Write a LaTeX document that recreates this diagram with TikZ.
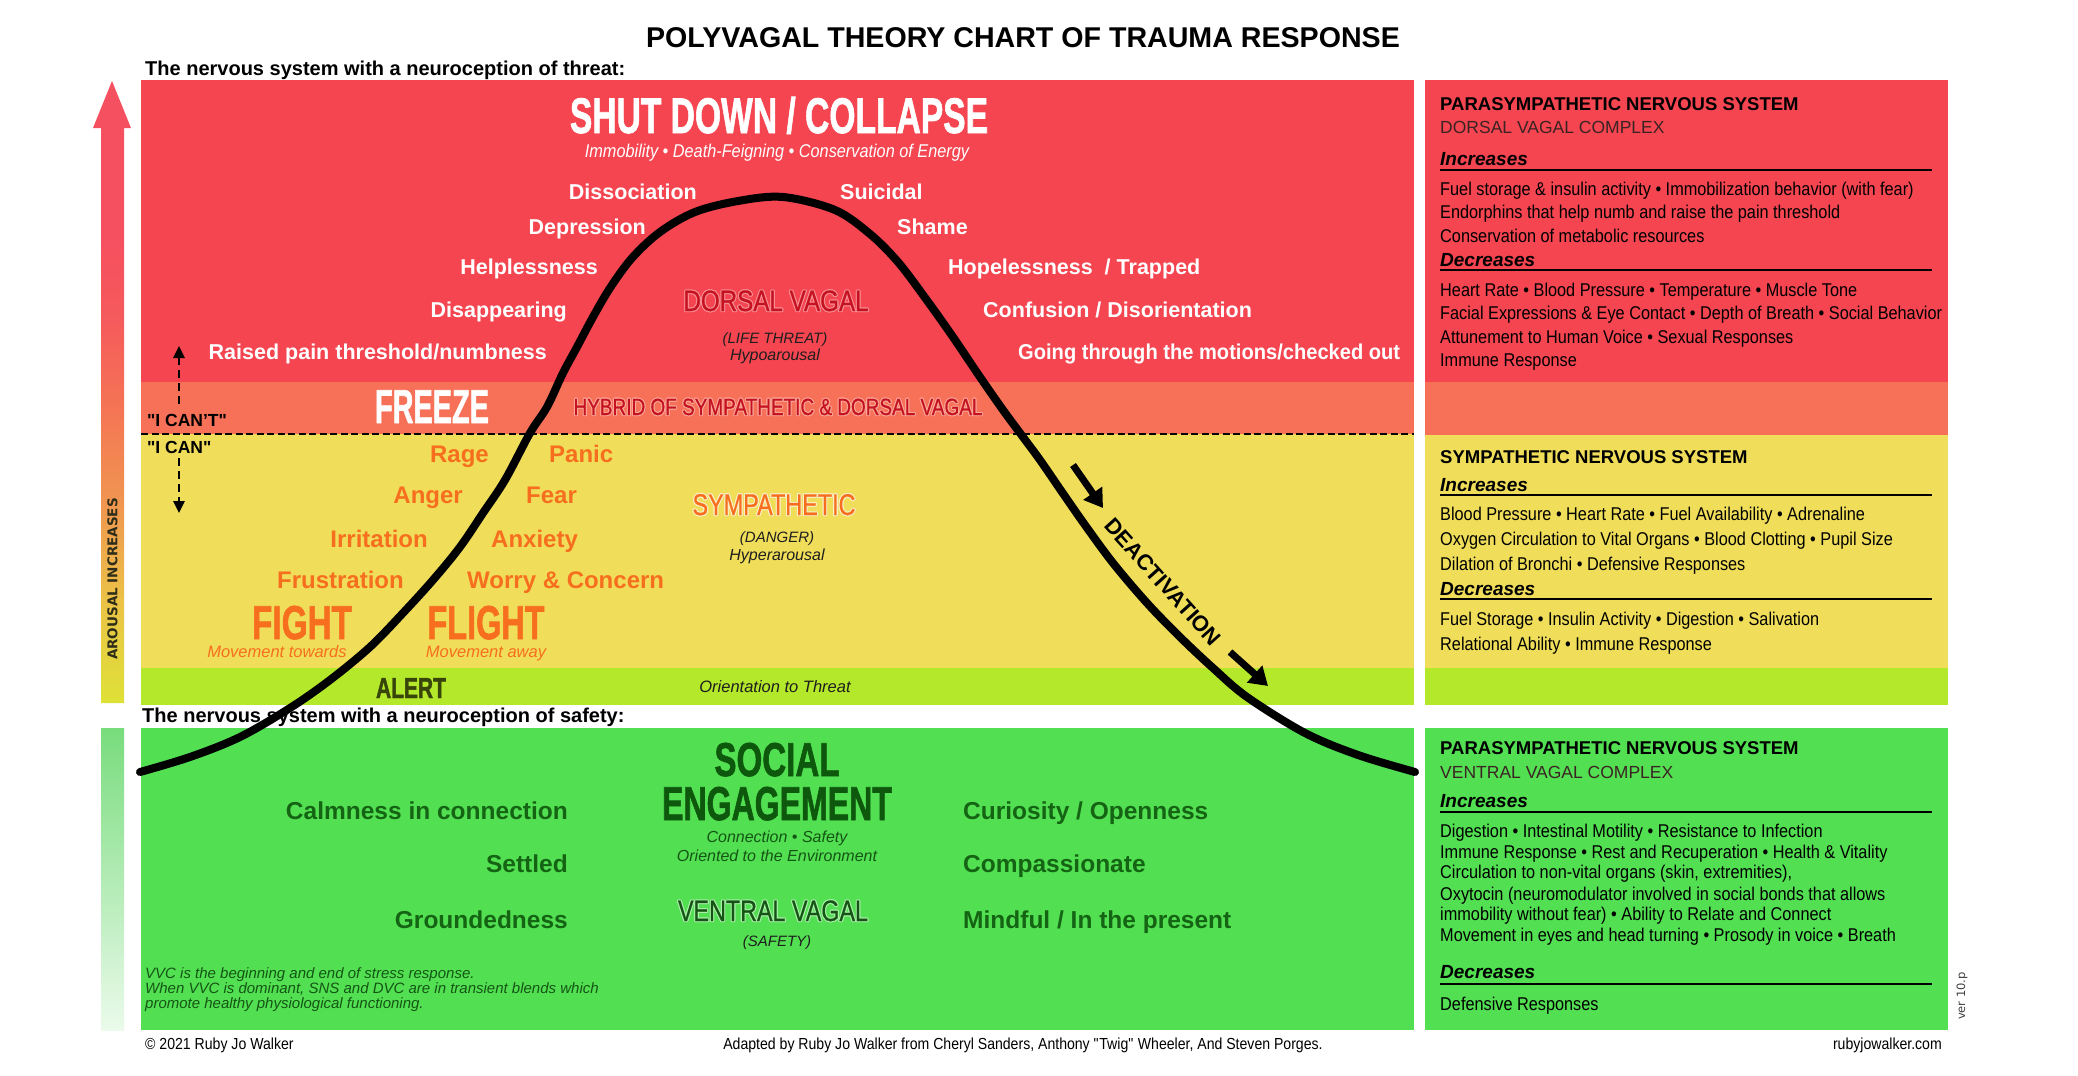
\documentclass[tikz,border=0pt]{standalone}
\usepackage{fontspec}
\usepackage{graphicx}
\setmainfont{Liberation Sans}
\newfontfamily\bodyf[FakeStretch=0.88]{Liberation Sans}
\newfontfamily\heavyf[FakeBold=1.6]{Liberation Sans}
\newfontfamily\semif[FakeBold=0.7]{Liberation Sans}
\newfontfamily\dvs{DejaVu Sans}
\usetikzlibrary{arrows.meta}

\definecolor{cRed}{RGB}{244,69,80}
\definecolor{cSalmon}{RGB}{247,112,88}
\definecolor{cYellow}{RGB}{240,222,90}
\definecolor{cLime}{RGB}{180,232,42}
\definecolor{cGreen}{RGB}{82,224,82}
\definecolor{cOrange}{RGB}{246,110,30}
\definecolor{cDarkRed}{RGB}{196,18,32}
\definecolor{cOlive}{RGB}{55,68,10}
\definecolor{cGText}{RGB}{20,100,20}
\definecolor{cDkGreen}{RGB}{14,88,14}
\definecolor{cVV}{RGB}{20,85,20}
\definecolor{cNote}{RGB}{30,30,30}
\definecolor{cSub}{RGB}{60,35,35}
\definecolor{cArousal}{RGB}{45,45,25}
\definecolor{haloRed}{RGB}{248,140,146}
\definecolor{haloSalmon}{RGB}{250,165,150}
\definecolor{haloGreen}{RGB}{170,238,170}
\definecolor{haloYellow}{RGB}{250,240,200}
\definecolor{arT}{RGB}{245,80,95}
\definecolor{arP}{RGB}{245,90,92}
\definecolor{arM}{RGB}{245,115,85}
\definecolor{arO}{RGB}{240,150,80}
\definecolor{arY}{RGB}{235,195,70}
\definecolor{arB}{RGB}{222,225,55}
\definecolor{lbTop}{RGB}{120,220,125}
\definecolor{lbBot}{RGB}{235,250,235}

\pgfdeclareverticalshading{arousal}{100bp}{color(0bp)=(arB); color(25bp)=(arB); color(33bp)=(arY); color(41bp)=(arO); color(49bp)=(arM); color(56bp)=(arP); color(62bp)=(arT); color(75bp)=(arT); color(100bp)=(arT)}

\newcommand\fs[1]{\fontsize{#1}{#1}\selectfont}
\newcommand\hx[2]{\scalebox{#1}[1]{#2}}
\newcommand\dq{\textquotedbl}
\newcommand\glow[2]{\leavevmode
  \rlap{\textcolor{#1}{\hspace*{1.1pt}#2}}%
  \rlap{\textcolor{#1}{\hspace*{-1.1pt}#2}}%
  \rlap{\textcolor{#1}{\raisebox{1.1pt}{#2}}}%
  \rlap{\textcolor{#1}{\raisebox{-1.1pt}{#2}}}%
  \rlap{\textcolor{#1}{\hspace*{0.8pt}\raisebox{0.8pt}{#2}}}%
  \rlap{\textcolor{#1}{\hspace*{-0.8pt}\raisebox{0.8pt}{#2}}}%
  \rlap{\textcolor{#1}{\hspace*{0.8pt}\raisebox{-0.8pt}{#2}}}%
  \rlap{\textcolor{#1}{\hspace*{-0.8pt}\raisebox{-0.8pt}{#2}}}%
  #2}

\begin{document}
\begin{tikzpicture}[x=1pt,y=-1pt,
  lbl/.style={inner sep=0pt, anchor=base},
  wword/.style={lbl, text=white, font=\fs{21.5}\bfseries},
  oword/.style={lbl, text=cOrange, font=\fs{24}\bfseries},
  gword/.style={lbl, text=cGText, font=\fs{24.5}\bfseries},
  pheavy/.style={lbl, font=\heavyf\fs{47.5}\bfseries},
  plight/.style={lbl, font=\semif\fs{29.5}},
  pnote/.style={lbl, text=cNote, font=\fs{16}\itshape},
  phead/.style={inner sep=0pt, anchor=base west, font=\fs{18.5}\bfseries},
  psub/.style={inner sep=0pt, anchor=base west, font=\fs{17.5}, text=cSub},
  pincr/.style={inner sep=0pt, anchor=base west, font=\fs{19}\bfseries\itshape},
  pbody/.style={inner sep=0pt, anchor=base west, font=\bodyf\fs{18.5}},
  prule/.style={line width=2.8pt},
  bigarrow/.style={line width=7pt, -{Triangle[length=18pt,width=22pt]}},
  dasharrow/.style={line width=2.6pt, dash pattern=on 8pt off 5pt, -{Triangle[length=12pt,width=11pt]}},
]
\useasboundingbox (0,0) rectangle (2078,1076);
\fill[white] (0,0) rectangle (2078,1076);

% ---------- bands: left panel
\fill[cRed] (141,80) rectangle (1414,382);
\fill[cSalmon] (141,382) rectangle (1414,434);
\fill[cYellow] (141,434) rectangle (1414,668);
\fill[cLime] (141,668) rectangle (1414,705);
\fill[cGreen] (141,728) rectangle (1414,1030);
% ---------- bands: right panel
\fill[cRed] (1425,80) rectangle (1948,382);
\fill[cSalmon] (1425,382) rectangle (1948,435);
\fill[cYellow] (1425,435) rectangle (1948,668);
\fill[cLime] (1425,668) rectangle (1948,705);
\fill[cGreen] (1425,728) rectangle (1948,1030);

% ---------- arousal arrow and lower bar
\shade[shading=arousal] (101,128) -- (93,128) -- (112,81) -- (131,128) -- (124,128) -- (124,703) -- (101,703) -- cycle;
\shade[top color=lbTop, bottom color=lbBot] (101,728) rectangle (124,1030);
\node[inner sep=0pt, rotate=90, font=\dvs\bfseries\fs{13.5}, text=cArousal] (arousal) at (112.5,579) {AROUSAL INCREASES};

% ---------- dashed divider and I CAN arrows
\draw[line width=2.6pt, dash pattern=on 7pt off 3.5pt] (141,434) -- (1414,434);
\coordinate (dua) at (179,404); \coordinate (dub) at (179,346);
\coordinate (dda) at (179,458); \coordinate (ddb) at (179,513);
\draw[dasharrow] (dua) -- (dub);
\draw[dasharrow] (dda) -- (ddb);

% ---------- the curve
\draw[line width=8pt, line cap=round, line join=round] plot[smooth, tension=0.55] coordinates {
 (140,772) (190,757) (240,737) (290,708) (330,680) (370,647) (403,613) (433,580) (460,547) (483,513) (505,480) (530,433) (547,407) (563,373) (577,347) (593,317) (610,288) (632,258) (660,232) (695,212) (738,201) (783,197)
 (835,210) (870,234) (898,262) (926,299) (953,337) (980,377) (1003,410) (1020,433) (1040,460) (1062,492) (1085,525) (1113,563) (1147,603) (1180,637) (1213,668) (1247,697) (1305,733) (1358,755) (1415,772)};

% ---------- deactivation
\coordinate (ua1) at (1073,465); \coordinate (ua2) at (1103,508);
\coordinate (la1) at (1230,652); \coordinate (la2) at (1268,686);
\draw[bigarrow] (ua1) -- (ua2);
\draw[bigarrow] (la1) -- (la2);
\node[inner sep=0pt, rotate=-48, font=\fs{22}\bfseries] (deact) at (1163,582) {DEACTIVATION};

% ---------- headings
\node[lbl, font=\fs{28.6}\bfseries] (title) at (1023,47) {POLYVAGAL THEORY CHART OF TRAUMA RESPONSE};
\node[lbl, anchor=base west, font=\fs{20}\bfseries] (threat) at (145,75) {The nervous system with a neuroception of threat:};
\node[lbl, anchor=base west, font=\fs{20}\bfseries] (safety) at (142,722) {The nervous system with a neuroception of safety:};

% ---------- red zone
\node[pheavy, text=white, font=\heavyf\fs{50}\bfseries] (shut) at (779,133) {\hx{0.672}{SHUT DOWN / COLLAPSE}};
\node[lbl, text=white, font=\bodyf\fs{18.5}\itshape] (immob) at (777,157) {Immobility • Death-Feigning • Conservation of Energy};
\node[wword, anchor=base east] (w1) at (697,199) {Dissociation};
\node[wword, anchor=base east] (w2) at (646,234) {Depression};
\node[wword, anchor=base east] (w3) at (598,274) {Helplessness};
\node[wword, anchor=base east] (w4) at (567,317) {Disappearing};
\node[wword, anchor=base east] (w5) at (547,359) {Raised pain threshold/numbness};
\node[wword, anchor=base west] (w6) at (840,199) {Suicidal};
\node[wword, anchor=base west] (w7) at (897,234) {Shame};
\node[wword, anchor=base west] (w8) at (948,274) {Hopelessness \ / Trapped};
\node[wword, anchor=base west] (w9) at (983,317) {Confusion / Disorientation};
\node[wword, anchor=base west] (w10) at (1018,359) {\hx{0.935}{Going through the motions/checked out}};
\node[plight, text=cDarkRed] (dv) at (776,311) {\glow{haloRed}{\hx{0.82}{DORSAL VAGAL}}};
\node[pnote, font=\fs{15}\itshape] (lt) at (775,343) {(LIFE THREAT)};
\node[pnote] (hypo) at (775,360) {Hypoarousal};

% ---------- freeze zone
\node[pheavy, text=white] (freeze) at (432,423) {\hx{0.608}{FREEZE}};
\node[lbl, text=cDarkRed, font=\semif\fs{23.5}] (hybrid) at (778,415) {\glow{haloSalmon}{\hx{0.807}{HYBRID OF SYMPATHETIC \& DORSAL VAGAL}}};
\node[lbl, anchor=base west, font=\fs{17.5}\bfseries] (icant) at (147,426) {\dq I CAN'T\dq};
\node[lbl, anchor=base west, font=\fs{17.5}\bfseries] (ican) at (147,453) {\dq I CAN\dq};

% ---------- yellow zone
\node[oword, anchor=base east] (o1) at (489,462) {Rage};
\node[oword, anchor=base west] (o2) at (549,462) {Panic};
\node[oword, anchor=base east] (o3) at (463,503) {Anger};
\node[oword, anchor=base west] (o4) at (526,503) {Fear};
\node[oword, anchor=base east] (o5) at (428,547) {Irritation};
\node[oword, anchor=base west] (o6) at (491,547) {Anxiety};
\node[oword, anchor=base east] (o7) at (404,588) {Frustration};
\node[oword, anchor=base west] (o8) at (467,588) {Worry \& Concern};
\node[pheavy, text=cOrange] (fight) at (302,639) {\hx{0.70}{FIGHT}};
\node[pheavy, text=cOrange] (flight) at (486,639) {\hx{0.682}{FLIGHT}};
\node[lbl, text=cOrange, font=\fs{16.5}\itshape] (mtow) at (277,657) {Movement towards};
\node[lbl, text=cOrange, font=\fs{16.5}\itshape] (maway) at (486,657) {Movement away};
\node[plight, text=cOrange, font=\semif\fs{30}] (symp) at (774,515) {\glow{haloYellow}{\hx{0.78}{SYMPATHETIC}}};
\node[pnote, font=\fs{15}\itshape] (danger) at (777,542) {(DANGER)};
\node[pnote] (hyper) at (777,560) {Hyperarousal};
\node[pheavy, text=cOlive, font=\heavyf\fs{29}\bfseries] (alert) at (411,698) {\hx{0.724}{ALERT}};
\node[pnote, font=\fs{16.5}\itshape] (orient) at (775,692) {Orientation to Threat};

% ---------- green zone
\node[pheavy, text=cDkGreen] (social) at (777,776) {\hx{0.697}{SOCIAL}};
\node[pheavy, text=cDkGreen] (engage) at (777,820) {\hx{0.675}{ENGAGEMENT}};
\node[pnote, text=cVV] (conn) at (777,842) {Connection • Safety};
\node[pnote, text=cVV] (orenv) at (777,861) {Oriented to the Environment};
\node[plight, text=cVV] (vv) at (773,921) {\glow{haloGreen}{\hx{0.79}{VENTRAL VAGAL}}};
\node[pnote, font=\fs{15}\itshape] (safe) at (777,946) {(SAFETY)};
\node[gword, anchor=base east] (g1) at (568,819) {Calmness in connection};
\node[gword, anchor=base east] (g2) at (568,872) {Settled};
\node[gword, anchor=base east] (g3) at (568,928) {Groundedness};
\node[gword, anchor=base west] (g4) at (963,819) {Curiosity / Openness};
\node[gword, anchor=base west] (g5) at (963,872) {Compassionate};
\node[gword, anchor=base west] (g6) at (963,928) {Mindful / In the present};
\node[lbl, anchor=base west, text=cVV, font=\fs{15}\itshape] (vvc1) at (145,978) {VVC is the beginning and end of stress response.};
\node[lbl, anchor=base west, text=cVV, font=\fs{15}\itshape] (vvc2) at (145,993) {When VVC is dominant, SNS and DVC are in transient blends which};
\node[lbl, anchor=base west, text=cVV, font=\fs{15}\itshape] (vvc3) at (145,1008) {promote healthy physiological functioning.};

% ---------- right panel: dorsal
\node[phead] (p1h) at (1440,110) {PARASYMPATHETIC NERVOUS SYSTEM};
\node[psub] (p1s) at (1440,133) {DORSAL VAGAL COMPLEX};
\node[pincr] (p1i) at (1440,165) {Increases};
\draw[prule] (1440,170) -- (1932,170);
\node[pbody] (p1a) at (1440,195) {Fuel storage \& insulin activity • Immobilization behavior (with fear)};
\node[pbody] (p1b) at (1440,218) {Endorphins that help numb and raise the pain threshold};
\node[pbody] (p1c) at (1440,242) {Conservation of metabolic resources};
\node[pincr] (p1d) at (1440,266) {Decreases};
\draw[prule] (1440,270) -- (1932,270);
\node[pbody] (p1e) at (1440,296) {Heart Rate • Blood Pressure • Temperature • Muscle Tone};
\node[pbody] (p1f) at (1440,319) {Facial Expressions \& Eye Contact • Depth of Breath • Social Behavior};
\node[pbody] (p1g) at (1440,343) {Attunement to Human Voice • Sexual Responses};
\node[pbody] (p1h2) at (1440,366) {Immune Response};

% ---------- right panel: sympathetic
\node[phead] (p2h) at (1440,463) {SYMPATHETIC NERVOUS SYSTEM};
\node[pincr] (p2i) at (1440,491) {Increases};
\draw[prule] (1440,495) -- (1932,495);
\node[pbody] (p2a) at (1440,520) {Blood Pressure • Heart Rate • Fuel Availability • Adrenaline};
\node[pbody] (p2b) at (1440,545) {Oxygen Circulation to Vital Organs • Blood Clotting • Pupil Size};
\node[pbody] (p2c) at (1440,570) {Dilation of Bronchi • Defensive Responses};
\node[pincr] (p2d) at (1440,595) {Decreases};
\draw[prule] (1440,599) -- (1932,599);
\node[pbody] (p2e) at (1440,625) {Fuel Storage • Insulin Activity • Digestion • Salivation};
\node[pbody] (p2f) at (1440,650) {Relational Ability • Immune Response};

% ---------- right panel: ventral
\node[phead] (p3h) at (1440,754) {PARASYMPATHETIC NERVOUS SYSTEM};
\node[psub] (p3s) at (1440,778) {VENTRAL VAGAL COMPLEX};
\node[pincr] (p3i) at (1440,807) {Increases};
\draw[prule] (1440,812) -- (1932,812);
\node[pbody] (p3a) at (1440,837) {Digestion • Intestinal Motility • Resistance to Infection};
\node[pbody] (p3b) at (1440,858) {Immune Response • Rest and Recuperation • Health \& Vitality};
\node[pbody] (p3c) at (1440,878) {Circulation to non-vital organs (skin, extremities),};
\node[pbody] (p3d) at (1440,900) {Oxytocin (neuromodulator involved in social bonds that allows};
\node[pbody] (p3e) at (1440,920) {immobility without fear) • Ability to Relate and Connect};
\node[pbody] (p3f) at (1440,941) {Movement in eyes and head turning • Prosody in voice • Breath};
\node[pincr] (p3g) at (1440,978) {Decreases};
\draw[prule] (1440,984) -- (1932,984);
\node[pbody] (p3k) at (1440,1010) {Defensive Responses};

% ---------- footer
\node[lbl, anchor=base west, font=\bodyf\fs{16}] (copy) at (145,1049) {© 2021 Ruby Jo Walker};
\node[lbl, font=\bodyf\fs{16}] (adapt) at (1023,1049) {Adapted by Ruby Jo Walker from Cheryl Sanders, Anthony \dq Twig\dq{} Wheeler, And Steven Porges.};
\node[lbl, anchor=base east, font=\bodyf\fs{16}] (web) at (1942,1049) {rubyjowalker.com};
\node[inner sep=0pt, rotate=90, font=\dvs\fs{11.5}, text=black!75] (ver) at (1962,996) {ver 10.p};
\end{tikzpicture}
\end{document}
